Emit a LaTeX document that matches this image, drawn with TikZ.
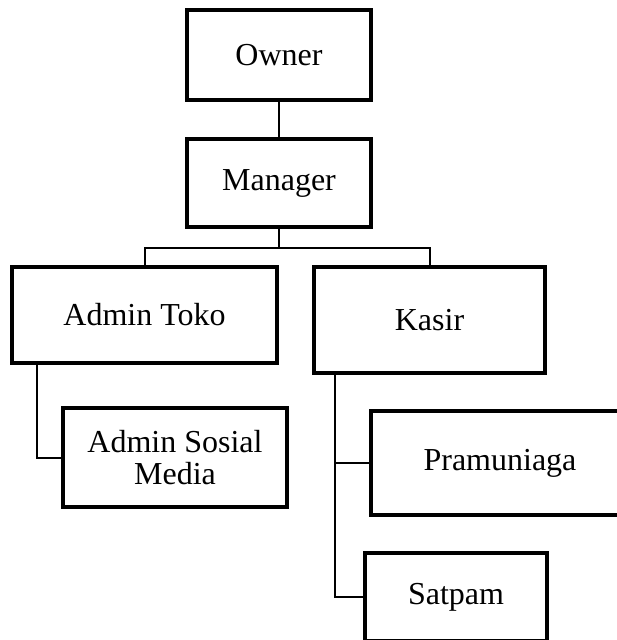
\documentclass[tikz,border=0pt]{standalone}
\usepackage{fontspec}
\setmainfont{Liberation Serif}
\usetikzlibrary{calc}
\begin{document}
\begin{tikzpicture}[x=1pt,y=-1pt,
  box/.style={draw=black,line width=3.5pt,fill=white,inner sep=0pt,align=center,
    font=\fontsize{32}{32}\selectfont},
  link/.style={draw=black,line width=2pt}]
\useasboundingbox (0,0) rectangle (617,640);
\clip (0,0) rectangle (617,640);
\fill[white] (0,0) rectangle (617,640);
% nodes
\node[box,minimum width=184pt,minimum height=90pt] (owner) at (279,55) {Owner};
\node[box,minimum width=184pt,minimum height=88pt] (mgr) at (279,183) {Manager};
\node[box,minimum width=265pt,minimum height=96pt] (at) at (144.5,315) {Admin Toko};
\node[box,minimum width=231pt,minimum height=106pt] (kasir) at (429.5,320) {Kasir};
\node[box,minimum width=224pt,minimum height=99pt] (asm) at (175,457.5) {Admin Sosial\\Media};
\node[box,minimum width=258pt,minimum height=104pt] (pram) at (500,463) {Pramuniaga};
\node[box,minimum width=182pt,minimum height=88pt] (satpam) at (456,597) {Satpam};
\coordinate (bus) at (279,248);
% connectors
\draw[link] (owner) -- (mgr);
\draw[link] (mgr.south) -- (bus);
\draw[link] (at.north) |- (bus) -| (kasir.north);
\draw[link] ([xshift=27pt]at.south west) |- (asm.west);
\draw[link] ([xshift=23pt]kasir.south west) |- (pram.west);
\draw[link] ([xshift=23pt]kasir.south west) |- (satpam.west);
\end{tikzpicture}
\end{document}
